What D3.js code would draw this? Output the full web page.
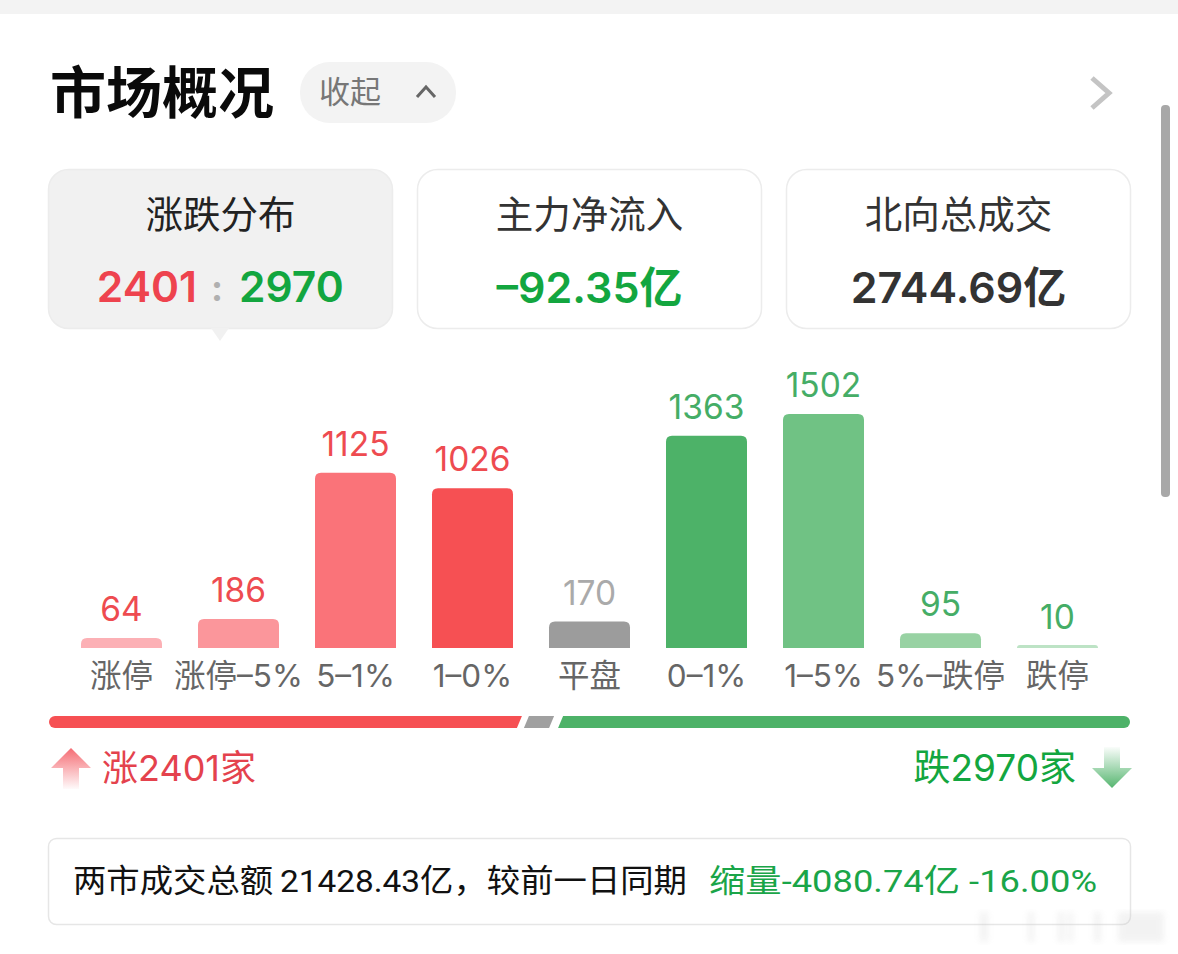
<!DOCTYPE html>
<html>
<head>
<meta charset="utf-8">
<script src="https://cdn.jsdelivr.net/npm/d3@7/dist/d3.min.js"></script>
<style>
  html, body { margin: 0; padding: 0; background: #fff; overflow: hidden; }
  svg { display: block; }
  text { font-family: "Noto Sans CJK SC", sans-serif; }
  .num { font-family: Inter, "Noto Sans CJK SC", sans-serif; }
  .rob { font-family: Roboto, "Noto Sans CJK SC", sans-serif; }
</style>
</head>
<body>
<div id="chart"></div>
<script>
var categories = ["涨停", "涨停–5%", "5–1%", "1–0%", "平盘", "0–1%", "1–5%", "5%–跌停", "跌停"];
var counts     = [64, 186, 1125, 1026, 170, 1363, 1502, 95, 10];
var barColors  = ["#fcb0b5", "#fb969b", "#fa7379", "#f65053", "#9c9c9c", "#4db268", "#70c284", "#98d2a3", "#bde3c5"];
var textColors = ["#ee4b50", "#ee4b50", "#ee4b50", "#ee4b50", "#aaaaaa", "#45ad66", "#45ad66", "#45ad66", "#45ad66"];

var cardTitles = ["涨跌分布", "主力净流入", "北向总成交"];
var cardValues = ["", "–92.35亿", "2744.69亿"];
var cardColors = ["", "#13a63f", "#333333"];

var upCount = 2401, flatCount = 170, downCount = 2970;

var W = 1178, H = 954;
var RED = "#ee434e", GREEN = "#13a63f";

var svg = d3.select("#chart").append("svg").attr("width", W).attr("height", H);
var defs = svg.append("defs");

function arrowGrad(id, color, up) {
  var g = defs.append("linearGradient").attr("id", id)
    .attr("x1", 0).attr("x2", 0).attr("y1", up ? 0 : 1).attr("y2", up ? 1 : 0);
  g.append("stop").attr("offset", "0%").attr("stop-color", color).attr("stop-opacity", 0.95);
  g.append("stop").attr("offset", "100%").attr("stop-color", color).attr("stop-opacity", 0.03);
}
arrowGrad("arrowUp", "#f4646c", true);
arrowGrad("arrowDown", "#4db268", false);
defs.append("filter").attr("id", "blur").append("feGaussianBlur").attr("stdDeviation", 3);

// Top strip
svg.append("rect").attr("width", W).attr("height", 14).attr("fill", "#f3f3f3");

// Header
svg.append("text").attr("x", 50).attr("y", 113).attr("font-size", 56).attr("font-weight", 700)
  .attr("fill", "#0a0a0a").text("市场概况");
svg.append("rect").attr("x", 300).attr("y", 62).attr("width", 156).attr("height", 61).attr("rx", 30)
  .attr("fill", "#f3f3f3");
svg.append("text").attr("x", 319).attr("y", 103).attr("font-size", 31).attr("fill", "#777").text("收起");
svg.append("path").attr("d", "M417,97L426,87L435,97").attr("fill", "none")
  .attr("stroke", "#666").attr("stroke-width", 3);
svg.append("path").attr("d", "M1092,78L1109,93L1092,108").attr("fill", "none")
  .attr("stroke", "#c4c4c4").attr("stroke-width", 5);

// Scrollbar
svg.append("rect").attr("x", 1161).attr("y", 105).attr("width", 9).attr("height", 392).attr("rx", 4)
  .attr("fill", "#a8a8a8");

// Cards
var cardX = d3.scaleBand().domain(cardTitles).range([48, 1131]).paddingInner(24 / 369);
var cards = svg.selectAll(".card").data(cardTitles).enter().append("g").attr("class", "card")
  .attr("transform", function (d) { return "translate(" + cardX(d) + ",169)"; });
cards.append("rect")
  .attr("x", 0.5).attr("y", 0.5)
  .attr("width", cardX.bandwidth() - 1).attr("height", 159).attr("rx", 20)
  .attr("fill", function (d, i) { return i === 0 ? "#f1f1f1" : "#fff"; })
  .attr("stroke", "#ececec")
  .attr("stroke-width", 1.5);
cards.append("text")
  .attr("x", cardX.bandwidth() / 2).attr("y", 59)
  .attr("text-anchor", "middle").attr("font-size", 37.5)
  .attr("fill", function (d, i) { return i === 0 ? "#222" : "#333"; })
  .text(function (d) { return d; });
cards.filter(function (d, i) { return i > 0; }).append("text").attr("class", "num")
  .attr("x", cardX.bandwidth() / 2).attr("y", 134)
  .attr("text-anchor", "middle").attr("font-size", 43).attr("font-weight", 600)
  .attr("fill", function (d) { return cardColors[cardTitles.indexOf(d)]; })
  .text(function (d) { return cardValues[cardTitles.indexOf(d)]; });

// Pointer of the active card
svg.append("path").attr("d", "M211,328L220,341L229,328Z").attr("fill", "#f1f1f1");

// Ratio in the first card
svg.append("text").attr("class", "num").attr("x", 197).attr("y", 302).attr("text-anchor", "end")
  .attr("font-size", 42.5).attr("font-weight", 600).attr("fill", RED).text(upCount);
svg.append("text").attr("class", "num").attr("x", 239).attr("y", 302)
  .attr("font-size", 42.5).attr("font-weight", 600).attr("fill", GREEN).text(downCount);
svg.append("text").attr("class", "num").attr("x", 217).attr("y", 301).attr("text-anchor", "middle")
  .attr("font-size", 36).attr("font-weight", 700).attr("fill", "#b0b0b0").text(":");

// Bars
var x = d3.scaleBand().domain(categories).range([81, 1098]).paddingInner(36 / 117).paddingOuter(0);
var y = d3.scaleLinear().domain([0, 1502]).range([648, 414]);

function barPath(d, i) {
  var base = y(0);
  var x0 = x(categories[i]), x1 = x0 + x.bandwidth(), top = Math.min(y(d), base - 3); // keep tiny bars visible
  var r = Math.min(6, base - top);
  return "M" + x0 + "," + base + "V" + (top + r) + "Q" + x0 + "," + top + " " + (x0 + r) + "," + top +
    "H" + (x1 - r) + "Q" + x1 + "," + top + " " + x1 + "," + (top + r) + "V" + base + "Z";
}
svg.append("g").selectAll("path").data(counts).enter().append("path")
  .attr("d", barPath)
  .attr("fill", function (d, i) { return barColors[i]; });

svg.append("g").selectAll("text").data(counts).enter().append("text").attr("class", "num")
  .attr("x", function (d, i) { return x(categories[i]) + x.bandwidth() / 2; })
  .attr("y", function (d) { return y(d) - 17; })
  .attr("text-anchor", "middle").attr("font-size", 33.5)
  .attr("fill", function (d, i) { return textColors[i]; })
  .text(function (d) { return d; });

var xAxis = svg.append("g").attr("transform", "translate(0,648)")
  .call(d3.axisBottom(x).tickSize(0).tickPadding(0));
xAxis.select(".domain").remove();
xAxis.selectAll("text")
  .attr("y", 39).attr("dy", null)
  .attr("font-size", 31.5).attr("fill", "#666")
  .style("font-family", 'Inter, "Noto Sans CJK SC", sans-serif');

// Ratio bar
var bar = d3.scaleLinear().domain([0, upCount + flatCount + downCount]).range([49, 1130]);
var by0 = 716, by1 = 728, sk = 5;
var bxUp = bar(upCount), bxFlat = bar(upCount + flatCount);
svg.append("path")
  .attr("d", "M" + (bar(0) + 6) + "," + by0 + "H" + (bxUp + 2 + sk / 2) + "L" + (bxUp + 2 - sk / 2) + "," + by1 +
    "H" + (bar(0) + 6) + "A6,6 0 0 1 " + (bar(0) + 6) + "," + by0 + "Z")
  .attr("fill", "#f65053");
svg.append("path")
  .attr("d", "M" + (bxUp + 9 + sk / 2) + "," + by0 + "H" + (bxFlat + 1 + sk / 2) + "L" + (bxFlat + 1 - sk / 2) + "," + by1 +
    "H" + (bxUp + 9 - sk / 2) + "Z")
  .attr("fill", "#a0a0a0");
svg.append("path")
  .attr("d", "M" + (bxFlat + 10 + sk / 2) + "," + by0 + "H" + (bar(5541) - 6) + "A6,6 0 0 1 " + (bar(5541) - 6) + "," + by1 +
    "H" + (bxFlat + 10 - sk / 2) + "Z")
  .attr("fill", "#4db268");

// Up / down summary
svg.append("path").attr("d", "M71,748L91,768H79V789H63V768H51Z").attr("fill", "url(#arrowUp)");
svg.append("text").attr("class", "num").attr("x", 102).attr("y", 781).attr("font-size", 36)
  .attr("fill", "#e4424d").text("涨" + upCount + "家");
svg.append("path").attr("d", "M1112,788L1132,768H1120V747H1104V768H1092Z").attr("fill", "url(#arrowDown)");
svg.append("text").attr("class", "num").attr("x", 1076).attr("y", 781).attr("text-anchor", "end").attr("font-size", 37)
  .attr("fill", GREEN).text("跌" + downCount + "家");

// Turnover box
svg.append("rect").attr("x", 48.5).attr("y", 838.5).attr("width", 1082).attr("height", 86).attr("rx", 8)
  .attr("fill", "#fff").attr("stroke", "#e6e6e6").attr("stroke-width", 1.5);
svg.append("text").attr("class", "rob").attr("x", 73).attr("y", 892).attr("font-size", 32).attr("fill", "#111")
  .attr("textLength", 614).attr("lengthAdjust", "spacingAndGlyphs")
  .text("两市成交总额\u200921428.43亿，较前一日同期");
svg.append("text").attr("class", "rob").attr("x", 709).attr("y", 892).attr("font-size", 32).attr("fill", "#1aa548")
  .attr("textLength", 388).attr("lengthAdjust", "spacingAndGlyphs")
  .text("缩量-4080.74亿 -16.00%");

// Faint blurred watermark, bottom right
var mark = svg.append("g").attr("filter", "url(#blur)").attr("fill", "#c8c8c8").attr("opacity", 0.22);
[[980, 8], [1028, 6], [1058, 6], [1068, 5], [1094, 7], [1118, 46]].forEach(function (m) {
  mark.append("rect").attr("x", m[0]).attr("y", 912).attr("width", m[1]).attr("height", 30);
});
</script>
</body>
</html>
